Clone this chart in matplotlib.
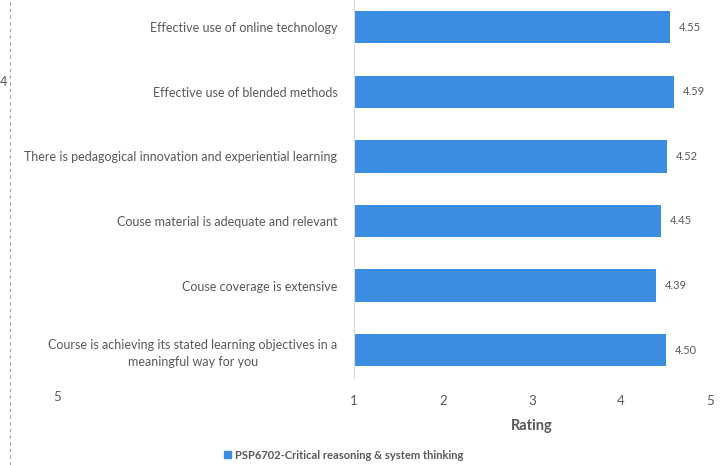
import matplotlib
matplotlib.use("Agg")
import matplotlib.pyplot as plt
from matplotlib.patches import Patch
from matplotlib.lines import Line2D

categories = [
    "Effective use of online technology",
    "Effective use of blended methods",
    "There is pedagogical innovation and experiential learning",
    "Couse material is adequate and relevant",
    "Couse coverage is extensive",
    "Course is achieving its stated learning objectives in a\nmeaningful way for you",
]
values = [4.55, 4.59, 4.52, 4.45, 4.39, 4.50]
xticks = [1, 2, 3, 4, 5]
series_name = "PSP6702-Critical reasoning & system thinking"
axis_label = "Rating"

plt.rcParams['font.family'] = ['Lato', 'DejaVu Sans']
gray = "#595959"
bar_color = "#3a8de0"

fig = plt.figure(figsize=(7.2, 4.65), dpi=100)
fig.patch.set_facecolor("white")
ax = fig.add_axes([354/720, 1 - 378/465, (710 - 354)/720, 378/465])

y = list(range(len(categories)))
base = 1
ax.barh(y, [v - base for v in values], left=base, height=0.5, color=bar_color)
for yi, v in zip(y, values):
    ax.text(v + 0.1, yi, f"{v:.2f}", va="center", ha="left", fontsize=8, color=gray)

ax.set_xlim(1, 5)
ax.set_ylim(5.43, -0.42)
ax.set_xticks(xticks)
ax.set_xticklabels([str(t) for t in xticks], fontsize=9.5, color=gray)
ax.set_yticks(y)
ax.set_yticklabels(categories, fontsize=9, color=gray, linespacing=1.5)
for lbl in ax.get_yticklabels():
    lbl.set_multialignment("center")
ax.tick_params(axis="y", length=0, pad=12)
ax.tick_params(axis="x", length=0, pad=12)
ax.set_xlabel(axis_label, fontsize=10.5, color=gray, fontweight="bold", labelpad=9)

for s in ["top", "right", "bottom"]:
    ax.spines[s].set_visible(False)
ax.spines["left"].set_color("#d9d9d9")
ax.spines["left"].set_linewidth(0.8)

# remnants of neighbouring chart at the left edge
fig.add_artist(Line2D([10/720, 10/720], [0, 1], transform=fig.transFigure,
                      color="#a0a0a0", linestyle=(0, (3, 3)), linewidth=0.8))
fig.text(3/720, 1 - 82/465, "4", fontsize=9, color=gray, ha="center", va="center")
fig.text(57/720, 1 - 397/465, "5", fontsize=9.5, color=gray, ha="center", va="center")

handle = Patch(color=bar_color)
leg = fig.legend(handles=[handle], labels=[series_name], loc="center left",
                 bbox_to_anchor=(214/720, 1 - 455/465), frameon=False,
                 handlelength=0.6, handleheight=0.6, handletextpad=0.4,
                 prop={"size": 8, "weight": "bold"})
for t in leg.get_texts():
    t.set_color(gray)

fig.savefig("out.png", dpi=100, facecolor="white")
